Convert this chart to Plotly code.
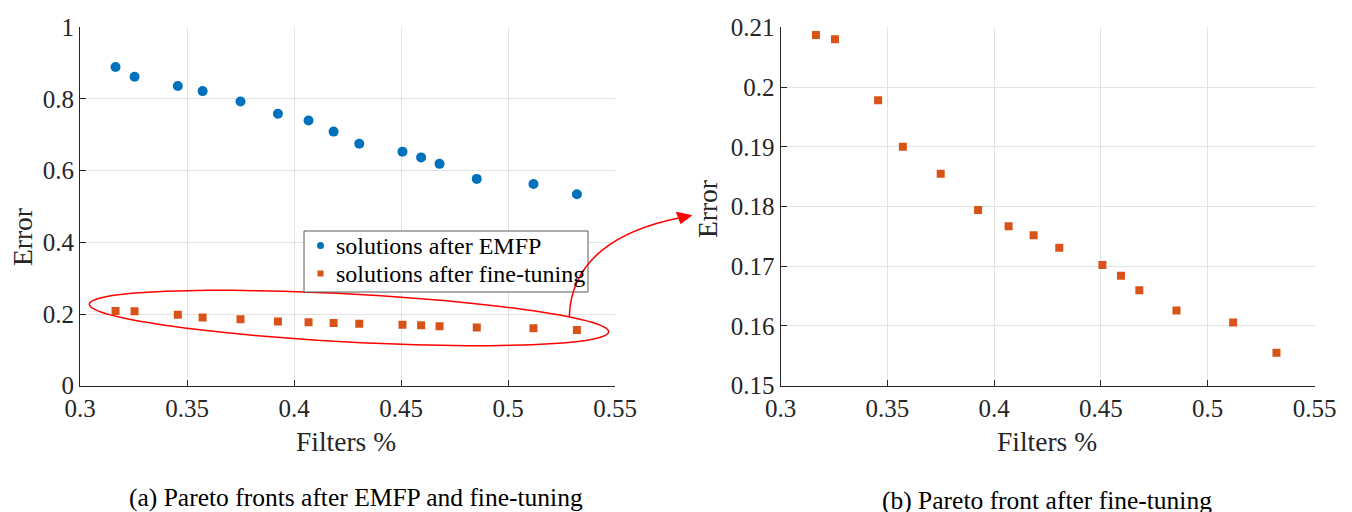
import numpy as np
import plotly.graph_objects as go

# Pareto-front data: fraction of filters kept vs. error
filters_pct = [0.3166, 0.3255, 0.3457, 0.3573, 0.3750, 0.3925, 0.4068, 0.4185,
               0.4305, 0.4507, 0.4594, 0.4680, 0.4854, 0.5119, 0.5322]
error_emfp = [0.889, 0.862, 0.836, 0.822, 0.793, 0.759, 0.740, 0.709,
              0.675, 0.653, 0.637, 0.619, 0.577, 0.563, 0.534]
error_finetuned = [0.2087, 0.2080, 0.1978, 0.1900, 0.1855, 0.1794, 0.1767, 0.1752,
                   0.1731, 0.1702, 0.1684, 0.1660, 0.1626, 0.1606, 0.1555]

series_names = ["solutions after EMFP", "solutions after fine-tuning"]

x_ticks = [0.3, 0.35, 0.4, 0.45, 0.5, 0.55]
x_ticklabels = ["0.3", "0.35", "0.4", "0.45", "0.5", "0.55"]
y_ticks_a = [0, 0.2, 0.4, 0.6, 0.8, 1]
y_ticklabels_a = ["0", "0.2", "0.4", "0.6", "0.8", "1"]
y_ticks_b = [0.15, 0.16, 0.17, 0.18, 0.19, 0.2, 0.21]
y_ticklabels_b = ["0.15", "0.16", "0.17", "0.18", "0.19", "0.2", "0.21"]

BLUE = "#0072BD"
ORANGE = "#D95319"
AXIS = "#262626"
GRID = "#e3e3e3"
FONT = "Liberation Serif, Times New Roman, serif"

W, H = 1352, 512


def px(x):
    return x / W


def py(y):
    return 1 - y / H


fig = go.Figure()

fig.add_trace(go.Scatter(
    x=filters_pct, y=error_emfp, mode="markers", name=series_names[0],
    marker=dict(symbol="circle", size=10, color=BLUE, line=dict(width=0)),
    xaxis="x", yaxis="y", showlegend=False))
fig.add_trace(go.Scatter(
    x=filters_pct, y=error_finetuned, mode="markers", name=series_names[1],
    marker=dict(symbol="square", size=8, color=ORANGE, line=dict(width=0)),
    xaxis="x", yaxis="y", showlegend=False))
fig.add_trace(go.Scatter(
    x=filters_pct, y=error_finetuned, mode="markers", name=series_names[1],
    marker=dict(symbol="square", size=8, color=ORANGE, line=dict(width=0)),
    xaxis="x2", yaxis="y2", showlegend=False))

common_axis = dict(
    showline=True, linecolor=AXIS, linewidth=1, mirror=False,
    ticks="inside", ticklen=6, tickcolor=AXIS, tickwidth=1,
    showgrid=True, gridcolor=GRID, gridwidth=1, zeroline=False,
    tickfont=dict(family=FONT, size=25, color=AXIS),
    automargin=False, fixedrange=True,
)

y_top, y_bot = 27.3, 385.7
fig.update_layout(
    xaxis=dict(domain=[px(80), px(615)], range=[0.3, 0.55], anchor="y",
               tickvals=x_ticks, ticktext=x_ticklabels, **common_axis),
    yaxis=dict(domain=[py(y_bot), py(y_top)], range=[0, 1], anchor="x",
               tickvals=y_ticks_a, ticktext=y_ticklabels_a, **common_axis),
    xaxis2=dict(domain=[px(780.5), px(1314.5)], range=[0.3, 0.55], anchor="y2",
                tickvals=x_ticks, ticktext=x_ticklabels, **common_axis),
    yaxis2=dict(domain=[py(y_bot), py(y_top)], range=[0.15, 0.21], anchor="x2",
                tickvals=y_ticks_b, ticktext=y_ticklabels_b, **common_axis),
)

# Highlight ellipse around the fine-tuned front (tilted, drawn in figure pixels)
cx, cy, a, b, theta = 349.0, 318.0, 260.0, 24.0, np.deg2rad(3.05)
t = np.linspace(0, 2 * np.pi, 121)
ex = cx + a * np.cos(t) * np.cos(theta) - b * np.sin(t) * np.sin(theta)
ey = cy + a * np.cos(t) * np.sin(theta) + b * np.sin(t) * np.cos(theta)
ellipse_path = "M " + " L ".join(f"{px(u):.5f},{py(v):.5f}" for u, v in zip(ex, ey)) + " Z"

# Curved arrow leading from the ellipse to the zoomed-in panel
p0, p1, p2, p3 = (569.3, 316.7), (571.0, 258.0), (620.0, 230.0), (678.7, 218.0)
curve_path = (f"M {px(p0[0])},{py(p0[1])} C {px(p1[0])},{py(p1[1])} "
              f"{px(p2[0])},{py(p2[1])} {px(p3[0])},{py(p3[1])}")
tip, c1, c2 = (691.5, 215.5), (676.5, 212.3), (680.8, 223.6)
head_path = (f"M {px(tip[0])},{py(tip[1])} L {px(c1[0])},{py(c1[1])} "
             f"L {px(c2[0])},{py(c2[1])} Z")

# Legend box for panel (a)
leg_l, leg_t, leg_r, leg_b = 304, 231, 588, 292
row_y = [245.5, 273.5]
mark_x = 320.5

shapes = [
    dict(type="path", xref="paper", yref="paper", path=ellipse_path,
         line=dict(color="#FF0000", width=1.5), layer="above"),
    dict(type="rect", xref="paper", yref="paper",
         x0=px(leg_l), x1=px(leg_r), y0=py(leg_b), y1=py(leg_t),
         line=dict(color="#5a5a5a", width=1), fillcolor="white", layer="above"),
    dict(type="circle", xref="paper", yref="paper",
         x0=px(mark_x - 3.5), x1=px(mark_x + 3.5),
         y0=py(row_y[0] + 3.5), y1=py(row_y[0] - 3.5),
         line=dict(width=0), fillcolor=BLUE, layer="above"),
    dict(type="rect", xref="paper", yref="paper",
         x0=px(mark_x - 3), x1=px(mark_x + 3),
         y0=py(row_y[1] + 3), y1=py(row_y[1] - 3),
         line=dict(width=0), fillcolor=ORANGE, layer="above"),
    dict(type="path", xref="paper", yref="paper", path=curve_path,
         line=dict(color="#FF0000", width=1.5), layer="above"),
    dict(type="path", xref="paper", yref="paper", path=head_path,
         line=dict(color="#FF0000", width=1), fillcolor="#FF0000", layer="above"),
]
fig.update_layout(shapes=shapes)

title_font = dict(family=FONT, size=27.5, color=AXIS)
cap_font = dict(family=FONT, size=25.5, color="#000000")
leg_font = dict(family=FONT, size=24, color="#000000")
annotations = [
    dict(text="Error", x=px(22), y=py(237), textangle=-90, font=title_font,
         xanchor="center", yanchor="middle"),
    dict(text="Error", x=px(707), y=py(209), textangle=-90, font=title_font,
         xanchor="center", yanchor="middle"),
    dict(text="Filters %", x=px(346), y=py(441), font=title_font,
         xanchor="center", yanchor="middle"),
    dict(text="Filters %", x=px(1047), y=py(441), font=title_font,
         xanchor="center", yanchor="middle"),
    dict(text="(a) Pareto fronts after EMFP and fine-tuning", x=px(356.5), y=py(497),
         font=cap_font, xanchor="center", yanchor="middle"),
    dict(text="(b) Pareto front after fine-tuning", x=px(1047), y=py(500),
         font=cap_font, xanchor="center", yanchor="middle"),
]
for name, ry in zip(series_names, row_y):
    annotations.append(dict(text=name, x=px(334), y=py(ry), font=leg_font,
                            xanchor="left", yanchor="middle"))
for ann in annotations:
    ann.update(xref="paper", yref="paper", showarrow=False)
fig.update_layout(annotations=annotations)

fig.update_layout(
    width=W, height=H,
    margin=dict(l=0, r=0, t=0, b=0),
    paper_bgcolor="white", plot_bgcolor="white",
    font=dict(family=FONT, color=AXIS),
    showlegend=False,
)

fig.write_html("out.html")
